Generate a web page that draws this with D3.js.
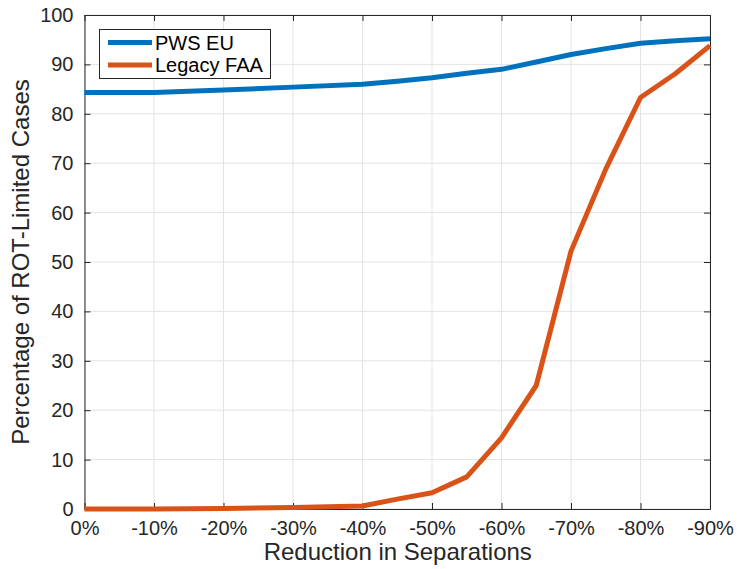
<!DOCTYPE html>
<html>
<head>
<meta charset="utf-8">
<script src="https://cdn.jsdelivr.net/npm/d3@7"></script>
<style>
  html, body { margin: 0; padding: 0; background: #fff; }
  svg { display: block; font-family: "Liberation Sans", Helvetica, Arial, sans-serif; }
</style>
</head>
<body>
<svg id="chart" width="737" height="569"></svg>
<script>
// Reduction in separations (percent) at which each case was evaluated
const reductions = [0, 10, 20, 30, 40, 45, 50, 55, 60, 65, 70, 75, 80, 85, 90];
// Percentage of ROT-limited cases per separation standard
const pwsEU     = [84.3, 84.3, 84.8, 85.4, 86.0, 86.6, 87.3, 88.2, 89.0, 90.5, 92.0, 93.2, 94.3, 94.8, 95.2];
const legacyFAA = [0.0, 0.0, 0.1, 0.3, 0.6, 2.0, 3.3, 6.5, 14.4, 25.0, 52.2, 68.8, 83.3, 88.1, 93.8];

const xTicks = [0, 10, 20, 30, 40, 50, 60, 70, 80, 90];
const xTickLabels = ["0%", "-10%", "-20%", "-30%", "-40%", "-50%", "-60%", "-70%", "-80%", "-90%"];
const yTicks = [0, 10, 20, 30, 40, 50, 60, 70, 80, 90, 100];

const seriesNames = ["PWS EU", "Legacy FAA"];
const seriesColors = ["#0072BD", "#D95319"];

const svg = d3.select("#chart");
const margin = { left: 84.5, top: 15, right: 737 - 710, bottom: 569 - 509 };
const W = 737, H = 569;
const x = d3.scaleLinear().domain([0, 90]).range([margin.left, W - margin.right]);
const y = d3.scaleLinear().domain([0, 100]).range([H - margin.bottom, margin.top]);

const axisColor = "#262626";
const tickLen = 6;

// grid
const grid = svg.append("g");
grid.selectAll("line.gx").data(xTicks).join("line")
  .attr("x1", d => x(d)).attr("x2", d => x(d))
  .attr("y1", y(0)).attr("y2", y(100))
  .attr("stroke", "#e3e3e3").attr("stroke-width", 1);
grid.selectAll("line.gy").data(yTicks).join("line")
  .attr("x1", x(0)).attr("x2", x(90))
  .attr("y1", d => y(d)).attr("y2", d => y(d))
  .attr("stroke", "#e3e3e3").attr("stroke-width", 1);

// axes (ticks pointing inward, box on all sides)
const fmtX = d => xTickLabels[xTicks.indexOf(d)];
const axB = svg.append("g").attr("transform", `translate(0,${y(0)})`)
  .call(d3.axisBottom(x).tickValues(xTicks).tickFormat(fmtX).tickSizeInner(-tickLen).tickSizeOuter(0).tickPadding(12));
const axT = svg.append("g").attr("transform", `translate(0,${y(100)})`)
  .call(d3.axisTop(x).tickValues(xTicks).tickFormat("").tickSizeInner(-tickLen).tickSizeOuter(0));
const axL = svg.append("g").attr("transform", `translate(${x(0)},0)`)
  .call(d3.axisLeft(y).tickValues(yTicks).tickFormat(d3.format("d")).tickSizeInner(-tickLen).tickSizeOuter(0).tickPadding(11));
const axR = svg.append("g").attr("transform", `translate(${x(90)},0)`)
  .call(d3.axisRight(y).tickValues(yTicks).tickFormat("").tickSizeInner(-tickLen).tickSizeOuter(0));

[axB, axT, axL, axR].forEach(a => {
  a.select(".domain").attr("stroke", axisColor).attr("stroke-width", 1);
  a.selectAll(".tick line").attr("stroke", axisColor).attr("stroke-width", 1);
  a.selectAll(".tick text").attr("fill", axisColor)
    .style("font-size", "20px").style("font-family", "'Liberation Sans', Helvetica, Arial, sans-serif");
});

// lines
const line = d3.line().x(d => x(d[0])).y(d => y(d[1]));
[pwsEU, legacyFAA].forEach((vals, i) => {
  svg.append("path")
    .datum(reductions.map((r, j) => [r, vals[j]]))
    .attr("d", line)
    .attr("fill", "none")
    .attr("stroke", seriesColors[i])
    .attr("stroke-width", 5)
    .attr("stroke-linejoin", "round");
});

// axis labels
svg.append("text")
  .attr("x", (x(0) + x(90)) / 2 + 0.5).attr("y", 560)
  .attr("text-anchor", "middle").attr("fill", axisColor)
  .style("font-size", "24px")
  .text("Reduction in Separations");
svg.append("text")
  .attr("transform", `translate(29,${(y(0) + y(100)) / 2}) rotate(-90)`)
  .attr("text-anchor", "middle").attr("fill", axisColor)
  .style("font-size", "24px")
  .text("Percentage of ROT-Limited Cases");

// legend
const lg = svg.append("g");
lg.append("rect")
  .attr("x", 99.5).attr("y", 29.5).attr("width", 171).attr("height", 49)
  .attr("fill", "#fff").attr("stroke", axisColor).attr("stroke-width", 1);
seriesNames.forEach((name, i) => {
  const yy = 42.5 + i * 22.5;
  lg.append("line")
    .attr("x1", 108).attr("x2", 152).attr("y1", yy).attr("y2", yy)
    .attr("stroke", seriesColors[i]).attr("stroke-width", 5);
  lg.append("text")
    .attr("x", 155).attr("y", yy + 7)
    .attr("fill", "#000").style("font-size", "20px")
    .text(name);
});
</script>
</body>
</html>
